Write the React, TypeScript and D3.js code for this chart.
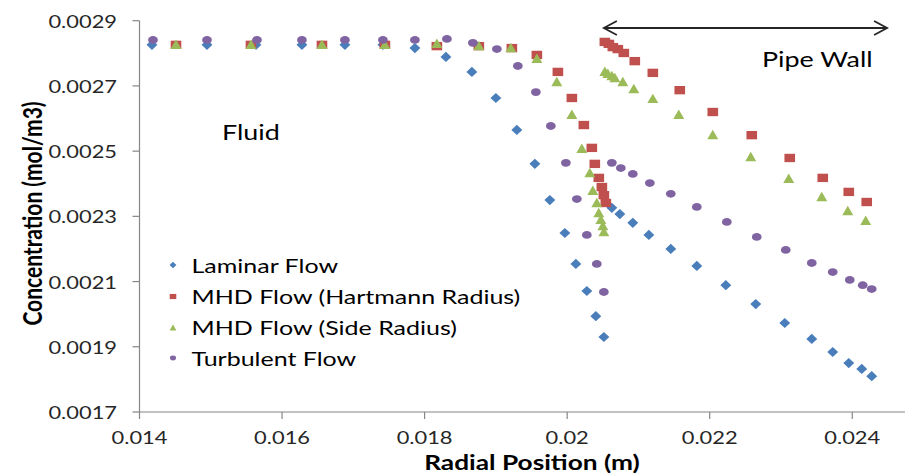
import React from "react";
import * as d3 from "d3";

const W = 923;
const H = 476;
const SX = 1.25; // horizontal stretch seen in the reference

const xTicks = [0.014, 0.016, 0.018, 0.02, 0.022, 0.024];
const xTickLabels = ["0.014", "0.016", "0.018", "0.02", "0.022", "0.024"];
const yTicks = [0.0017, 0.0019, 0.0021, 0.0023, 0.0025, 0.0027, 0.0029];
const yTickLabels = ["0.0017", "0.0019", "0.0021", "0.0023", "0.0025", "0.0027", "0.0029"];

const laminarX = [
  0.014175, 0.014947, 0.015634, 0.016279, 0.016882, 0.017415, 0.017864, 0.018299, 0.018663,
  0.019, 0.019294, 0.019547, 0.019757, 0.019968, 0.020122, 0.020276, 0.020402, 0.020515,
  0.020627, 0.020739, 0.020921, 0.021146, 0.021454, 0.021819, 0.022226, 0.022646, 0.023053,
  0.023432, 0.023726, 0.023951, 0.024133, 0.024273,
];
const laminarY = [
  0.002826, 0.002826, 0.002826, 0.002826, 0.002826, 0.002826, 0.002816, 0.002789, 0.002743,
  0.002663, 0.002565, 0.002461, 0.00235, 0.002249, 0.002154, 0.002071, 0.001994, 0.00193,
  0.002326, 0.002307, 0.00228, 0.002243, 0.0022, 0.002148, 0.002089, 0.002031, 0.001973,
  0.001924, 0.001884, 0.00185, 0.001832, 0.00181,
];

const hartmannX = [
  0.014512, 0.015564, 0.01656, 0.017443, 0.018172, 0.018761, 0.019224, 0.019575, 0.01987,
  0.020066, 0.020234, 0.020346, 0.020388, 0.020444, 0.020487, 0.020515, 0.020543,
  0.020529, 0.020585, 0.020641, 0.020711, 0.020795, 0.020949, 0.021202, 0.02158, 0.022043,
  0.02259, 0.023123, 0.023586, 0.023951, 0.024203,
];
const hartmannY = [
  0.002826, 0.002826, 0.002826, 0.002826, 0.002822, 0.002822, 0.002816, 0.002795, 0.002743,
  0.002663, 0.00258, 0.00251, 0.002461, 0.002418, 0.00239, 0.002365, 0.002341,
  0.002835, 0.002829, 0.002819, 0.002813, 0.002801, 0.002776, 0.00274, 0.002687, 0.00262,
  0.002549, 0.002479, 0.002418, 0.002375, 0.002344,
];

const sideX = [
  0.014512, 0.015564, 0.01656, 0.017443, 0.018172, 0.018761, 0.01921, 0.019575, 0.019855,
  0.020066, 0.020206, 0.020318, 0.02036, 0.020416, 0.020444, 0.020473, 0.020501, 0.020515,
  0.020529, 0.020571, 0.020627, 0.020669, 0.020781, 0.020935, 0.021202, 0.021566, 0.022043,
  0.022576, 0.023109, 0.023572, 0.023937, 0.024189,
];
const sideY = [
  0.002826, 0.002826, 0.002826, 0.002826, 0.002829, 0.002822, 0.002816, 0.002783, 0.002712,
  0.002611, 0.002507, 0.002433, 0.002378, 0.002341, 0.00231, 0.002289, 0.00227, 0.002252,
  0.002743, 0.002737, 0.00273, 0.002724, 0.002712, 0.00269, 0.00266, 0.002611, 0.002549,
  0.002482, 0.002415, 0.002359, 0.002316, 0.002286,
];

const turbulentX = [
  0.014189, 0.014947, 0.015648, 0.016279, 0.016882, 0.017415, 0.017864, 0.018313, 0.018677,
  0.019014, 0.019308, 0.019561, 0.019771, 0.019982, 0.020136, 0.020276, 0.020416, 0.020515,
  0.020627, 0.020753, 0.020921, 0.02116, 0.021454, 0.021819, 0.02224, 0.02266, 0.023067,
  0.023432, 0.023726, 0.023965, 0.024147, 0.024273,
];
const turbulentY = [
  0.002841, 0.002841, 0.002841, 0.002841, 0.002841, 0.002841, 0.002841, 0.002844, 0.002832,
  0.002813, 0.002761, 0.002681, 0.002577, 0.002464, 0.002353, 0.002243, 0.002154, 0.002068,
  0.002464, 0.002448, 0.00243, 0.002402, 0.002369, 0.002329, 0.002283, 0.002237, 0.002197,
  0.002157, 0.002129, 0.002105, 0.002089, 0.002077,
];

const seriesNames = [
  "Laminar Flow",
  "MHD Flow (Hartmann Radius)",
  "MHD Flow (Side Radius)",
  "Turbulent Flow",
];
const seriesColors = ["#4A7EBB", "#C0504D", "#9BBB59", "#8064A2"];

const FONT = "Lato, 'Open Sans', 'DejaVu Sans', sans-serif";

type Shape = "diamond" | "square" | "triangle" | "circle";

function markerPath(shape: Shape, small: boolean): { d: string; t: string } {
  const k = small ? 0.62 : 1;
  if (shape === "diamond") {
    return { d: d3.symbol(d3.symbolSquare, 52 * k * k)() as string, t: "scale(1.07,1) rotate(45)" };
  }
  if (shape === "square") {
    return { d: d3.symbol(d3.symbolSquare, 70 * k * k)() as string, t: "scale(1.27,1)" };
  }
  if (shape === "triangle") {
    return { d: d3.symbol(d3.symbolTriangle, 52 * k * k)() as string, t: "translate(0,1) scale(1,1)" };
  }
  return { d: d3.symbol(d3.symbolCircle, 48 * k * k)() as string, t: "scale(1.25,1)" };
}

export default function App() {
  const x = d3.scaleLinear().domain([0.014, 0.02474]).range([139.5, 905]);
  const y = d3.scaleLinear().domain([0.0017, 0.0029]).range([412, 20.7]);

  const series = [
    { xs: laminarX, ys: laminarY, shape: "diamond" as Shape },
    { xs: hartmannX, ys: hartmannY, shape: "square" as Shape },
    { xs: sideX, ys: sideY, shape: "triangle" as Shape },
    { xs: turbulentX, ys: turbulentY, shape: "circle" as Shape },
  ];

  const axisColor = "#868686";
  const x0 = x.range()[0];
  const x1 = x.range()[1];
  const yBottom = y(0.0017);
  const yTop = y(0.0029);

  const legendX = 173;
  const legendTextX = 191.5;
  const legendRows = [265, 296.5, 327.5, 358];

  return (
    <svg
      width={W}
      height={H}
      style={{ position: "absolute", left: 0, top: 0, background: "#fff" }}
      fontFamily={FONT}
    >
      <rect x={0} y={0} width={W} height={H} fill="#fff" />

      {/* axes */}
      <line x1={x0} x2={x0} y1={yTop} y2={yBottom} stroke={axisColor} strokeWidth={1.2} />
      <line x1={x0} x2={x1} y1={yBottom} y2={yBottom} stroke={axisColor} strokeWidth={1.2} />
      {yTicks.map((t, i) => (
        <g key={"yt" + i}>
          <line x1={x0 - 7} x2={x0} y1={y(t)} y2={y(t)} stroke={axisColor} strokeWidth={1.2} />
          <text
            transform={`translate(117,${y(t)}) scale(${SX},1)`}
            textAnchor="end"
            dominantBaseline="central"
            fontSize={17.5}
            fill="#262626"
          >
            {yTickLabels[i]}
          </text>
        </g>
      ))}
      {xTicks.map((t, i) => (
        <g key={"xt" + i}>
          <line x1={x(t)} x2={x(t)} y1={yBottom} y2={yBottom + 7} stroke={axisColor} strokeWidth={1.2} />
          <text
            transform={`translate(${x(t)},437) scale(${SX},1)`}
            textAnchor="middle"
            dominantBaseline="central"
            fontSize={17.5}
            fill="#262626"
          >
            {xTickLabels[i]}
          </text>
        </g>
      ))}

      {/* axis titles */}
      <text
        transform={`translate(532,462) scale(${SX},1)`}
        textAnchor="middle"
        dominantBaseline="central"
        fontSize={21}
        fontWeight="bold"
        fill="#000"
      >
        Radial Position (m)
      </text>
      <text
        transform={`translate(32,213.5) scale(${SX},1) rotate(-90)`}
        textAnchor="middle"
        dominantBaseline="central"
        fontSize={21}
        fontWeight="bold"
        fill="#000"
      >
        Concentration (mol/m3)
      </text>

      {/* data */}
      {series.map((s, si) => {
        const m = markerPath(s.shape, false);
        return (
          <g key={"s" + si} fill={seriesColors[si]}>
            {s.xs.map((xv, i) => (
              <path key={i} d={m.d} transform={`translate(${x(xv)},${y(s.ys[i])}) ${m.t}`} />
            ))}
          </g>
        );
      })}

      {/* annotations */}
      <g stroke="#262626" strokeWidth={1.8} fill="none">
        <line x1={x(0.020515)} x2={x(0.024489)} y1={28} y2={28} />
        <polyline
          points={`${x(0.020515) + 13},21 ${x(0.020515)},28 ${x(0.020515) + 13},35`}
        />
        <polyline
          points={`${x(0.024489) - 13},21 ${x(0.024489)},28 ${x(0.024489) - 13},35`}
        />
      </g>
      <text transform={`translate(762,66.5) scale(${SX},1)`} fontSize={21.5} fill="#000">
        Pipe Wall
      </text>
      <text transform={`translate(222,140) scale(${SX},1)`} fontSize={21.5} fill="#000">
        Fluid
      </text>

      {/* legend */}
      {seriesNames.map((name, i) => {
        const m = markerPath(series[i].shape, true);
        return (
          <g key={"lg" + i}>
            <path
              d={m.d}
              fill={seriesColors[i]}
              transform={`translate(${legendX},${legendRows[i]}) ${m.t}`}
            />
            <text
              transform={`translate(${legendTextX},${legendRows[i]}) scale(${SX},1)`}
              dominantBaseline="central"
              fontSize={20}
              fill="#000"
            >
              {name}
            </text>
          </g>
        );
      })}
    </svg>
  );
}
